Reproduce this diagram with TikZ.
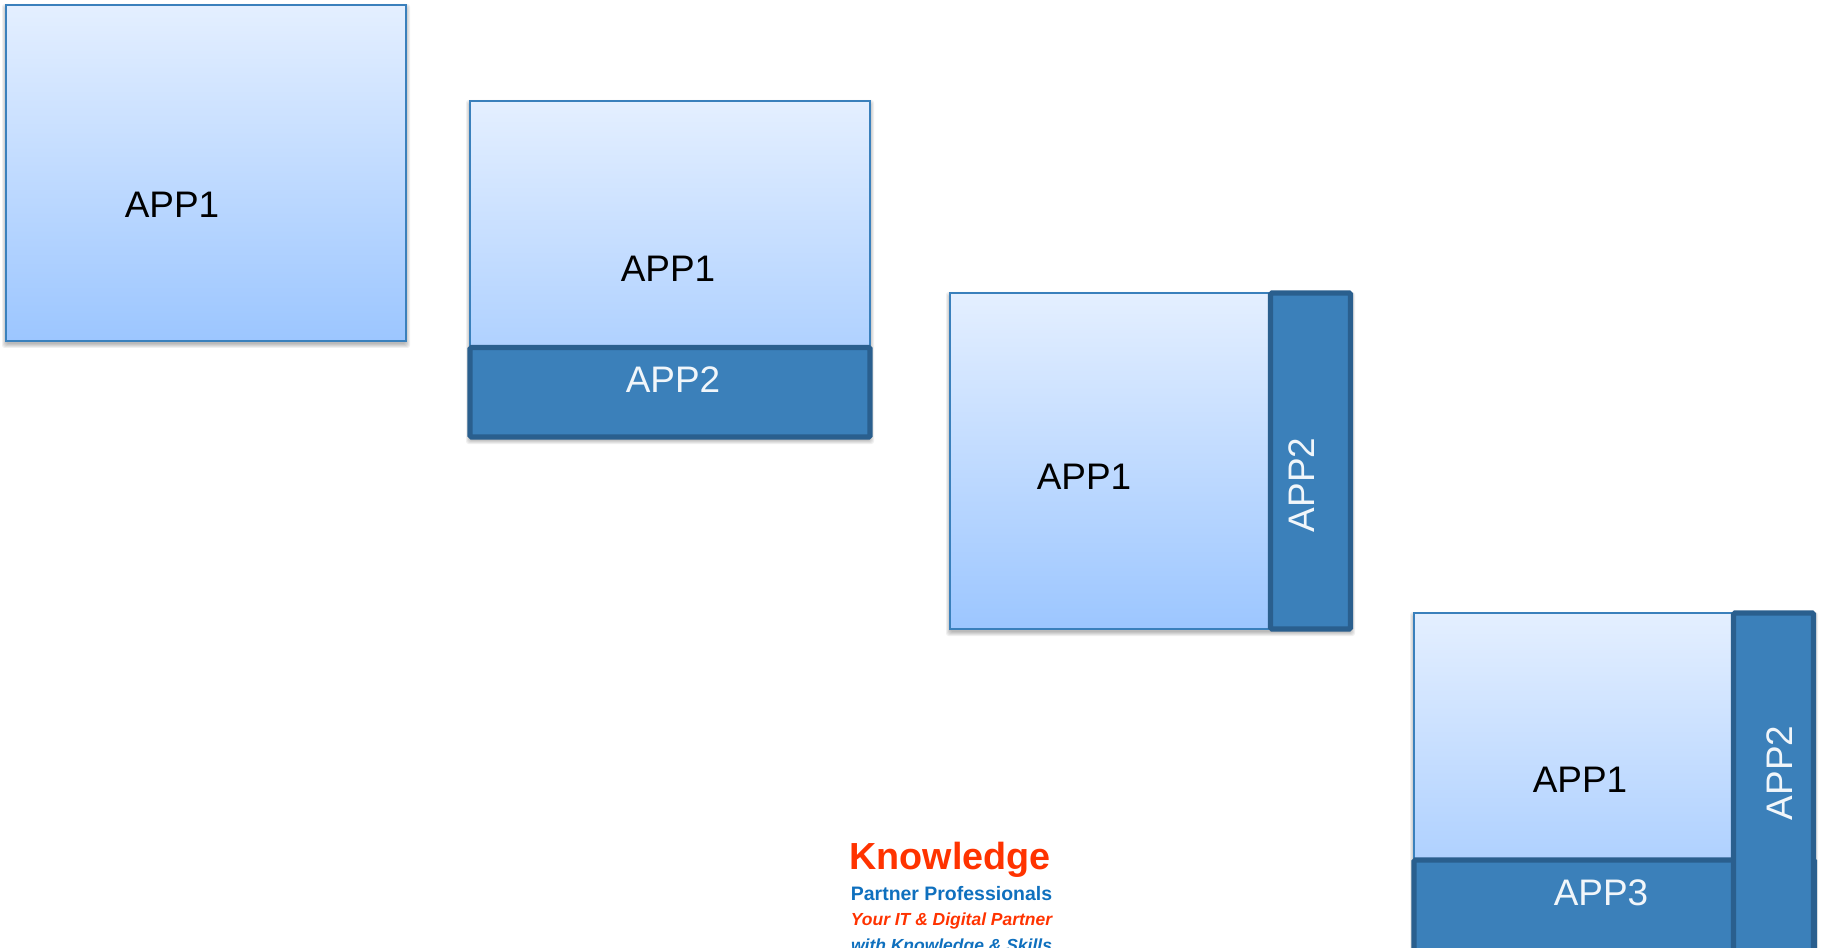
\documentclass[tikz,border=0pt]{standalone}
\usepackage{fontspec}
\setmainfont{Liberation Sans}
\definecolor{lightedge}{HTML}{3A80BC}
\definecolor{gradtop}{HTML}{E4EFFF}
\definecolor{gradbot}{HTML}{9CC6FF}
\definecolor{darkfill}{HTML}{3B80BA}
\definecolor{darkedge}{HTML}{2A5F8E}
\definecolor{logored}{HTML}{FF3300}
\definecolor{logoblue}{HTML}{0F70BE}
\tikzset{
  x=0.75pt,y=-0.75pt,
  lightbox/.style={draw=lightedge,line width=1.5pt,top color=gradtop,bottom color=gradbot,middle color=gradtop!50!gradbot},
  darkbox/.style={draw=darkedge,line width=3.8pt,fill=darkfill,rounded corners=1pt},
  shade1/.style={fill=black,opacity=0.06,draw=none,rounded corners=2pt},
  blacktxt/.style={font=\fontsize{27.7}{32}\selectfont,text=black,inner sep=0pt},
  whitetxt/.style={font=\fontsize{27.7}{32}\selectfont,text=white!93!darkfill,inner sep=0pt},
  logo/.style={inner sep=0pt,font=\bfseries\fontsize{14.6}{16}\selectfont,text=logoblue},
}
\newcommand{\softshadow}[4]{%
  \foreach \d in {0,1,2,3,4}{
    \fill[shade1] (#1-\d,#2+3-\d) rectangle (#3+\d,#4+3+\d);
  }}
\begin{document}
\begin{tikzpicture}
\useasboundingbox (0,0) rectangle (1824,948);
\clip (0,0) rectangle (1824,948);
\fill[white] (0,0) rectangle (1824,948);

% panel 1
\softshadow{6}{5}{406}{341}
\path[lightbox] (6,5) rectangle (406,341);
\node[blacktxt] (p1a) at (172,205) {APP1};

% panel 2
\softshadow{470}{101}{870}{437}
\path[lightbox] (470,101) rectangle (870,437);
\draw[darkbox] (470,347.5) rectangle (870,437);
\node[blacktxt] (p2a) at (668,269) {APP1};
\node[whitetxt] (p2b) at (673,380) {APP2};

% panel 3
\softshadow{950}{293}{1351}{629}
\path[lightbox] (950,293) rectangle (1350,629);
\draw[darkbox] (1270.5,293) rectangle (1350.5,629);
\node[blacktxt] (p3a) at (1084,477) {APP1};
\node[whitetxt,rotate=90] (p3b) at (1302,485) {APP2};

% panel 4
\softshadow{1414}{613}{1814}{960}
\path[lightbox] (1414,613) rectangle (1814,949);
\draw[darkbox] (1414,860) rectangle (1814.5,970);
\draw[darkbox] (1733.5,613) rectangle (1813.5,970);
\node[blacktxt] (p4a) at (1580,780) {APP1};
\node[whitetxt,rotate=90] (p4b) at (1780,773) {APP2};
\node[whitetxt] (p4c) at (1601,893) {APP3};

% logo
\node[logo,font=\bfseries\fontsize{28.3}{30}\selectfont,text=logored] (l1) at (950,860) {Knowledge};
\node[logo] (l2) at (951.5,894) {Partner Professionals};
\node[logo,font=\bfseries\itshape\fontsize{13.1}{16}\selectfont,text=logored] (l3) at (951.5,921) {Your IT \& Digital Partner};
\node[logo,font=\bfseries\itshape\fontsize{13.1}{16}\selectfont] (l4) at (951.5,947) {with Knowledge \& Skills};
\end{tikzpicture}
\end{document}
